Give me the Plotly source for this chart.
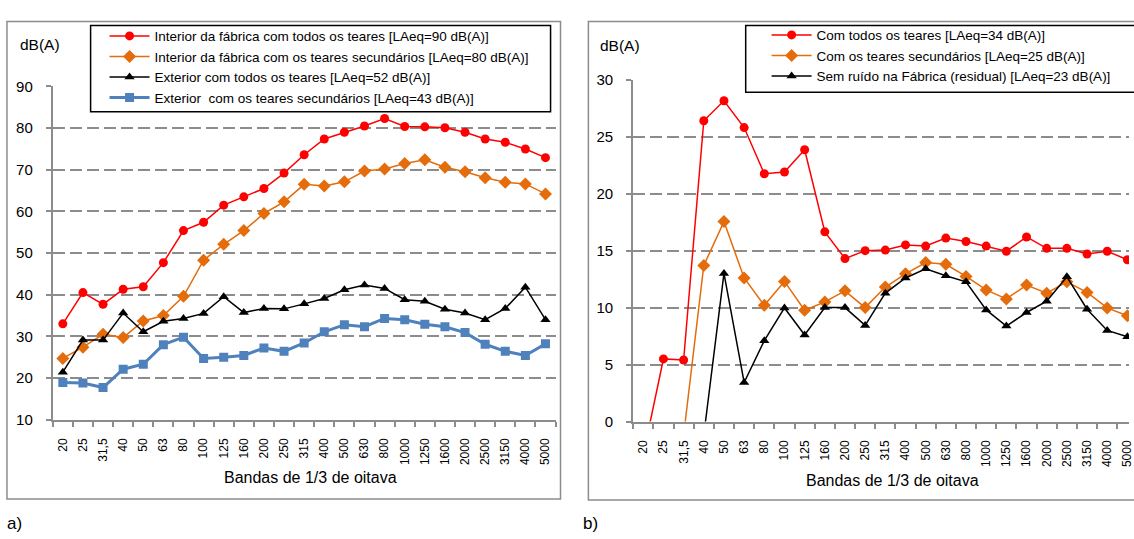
import plotly.graph_objects as go

W, H = 1134, 539

bands = ["20", "25", "31,5", "40", "50", "63", "80", "100", "125", "160", "200", "250", "315",
         "400", "500", "630", "800", "1000", "1250", "1600", "2000", "2500", "3150", "4000", "5000"]

# (a) interior / exterior
int_todos = [33.0, 40.5, 37.7, 41.3, 41.9, 47.7, 55.4, 57.4, 61.5, 63.5, 65.5, 69.2, 73.6,
             77.4, 79.0, 80.5, 82.3, 80.4, 80.3, 80.1, 79.0, 77.4, 76.6, 75.0, 72.9]
int_sec = [24.7, 27.4, 30.5, 29.7, 33.7, 35.0, 39.6, 48.3, 52.1, 55.4, 59.5, 62.3, 66.5,
           66.1, 67.1, 69.7, 70.2, 71.5, 72.4, 70.6, 69.5, 68.1, 67.0, 66.6, 64.2]
ext_todos = [21.4, 29.1, 29.1, 35.6, 31.1, 33.6, 34.3, 35.5, 39.5, 35.7, 36.7, 36.6, 37.8,
             39.1, 41.2, 42.3, 41.5, 38.8, 38.4, 36.5, 35.6, 34.0, 36.7, 41.8, 34.0]
ext_sec = [18.9, 18.8, 17.7, 22.1, 23.3, 28.0, 29.8, 24.7, 25.0, 25.4, 27.2, 26.4, 28.4,
           31.1, 32.8, 32.3, 34.3, 34.0, 32.9, 32.3, 30.9, 28.1, 26.4, 25.4, 28.2]

# (b) LAeq contribution
b_todos = [-2.9, 5.5, 5.4, 26.4, 28.15, 25.8, 21.75, 21.9, 23.85, 16.65, 14.3, 15.0, 15.05,
           15.5, 15.4, 16.1, 15.8, 15.4, 14.95, 16.2, 15.2, 15.2, 14.7, 14.95, 14.2]
b_sec = [None, None, -1.2, 13.7, 17.55, 12.6, 10.2, 12.3, 9.77, 10.5, 11.47, 10.0, 11.8,
         12.97, 13.96, 13.8, 12.74, 11.55, 10.76, 11.98, 11.27, 12.26, 11.33, 9.97, 9.29]
b_resid = [None, None, None, -1.2, 13.0, 3.43, 7.1, 9.97, 7.6, 10.0, 10.0, 8.44, 11.27,
           12.6, 13.4, 12.8, 12.26, 9.8, 8.38, 9.57, 10.56, 12.7, 9.86, 8.0, 7.45]

names_a = ["Interior da fábrica com todos os teares [LAeq=90 dB(A)]",
           "Interior da fábrica com os teares secundários [LAeq=80 dB(A)]",
           "Exterior com todos os teares [LAeq=52 dB(A)]",
           "Exterior  com os teares secundários [LAeq=43 dB(A)]"]
names_b = ["Com todos os teares [LAeq=34 dB(A)]",
           "Com os teares secundários [LAeq=25 dB(A)]",
           "Sem ruído na Fábrica (residual) [LAeq=23 dB(A)]"]

RED, ORANGE, BLACK, BLUE = "#FF0000", "#E46C0A", "#000000", "#4F81BD"
GRID = "#8C8C8C"
FONT = "Liberation Sans, Arial, sans-serif"


def px(x):
    return x / W


def py(y):
    return 1 - y / H


fig = go.Figure()

styles_a = [
    (int_todos, RED, "circle", 9, 1.5),
    (int_sec, ORANGE, "diamond", 10, 1.5),
    (ext_todos, BLACK, "triangle-up", 9, 1.5),
    (ext_sec, BLUE, "square", 9, 3),
]
for i, (vals, col, sym, ms, lw) in enumerate(styles_a):
    fig.add_trace(go.Scatter(
        x=bands, y=vals, name=names_a[i], mode="lines+markers",
        line=dict(color=col, width=lw), marker=dict(symbol=sym, size=ms, color=col),
        xaxis="x", yaxis="y", legend="legend", legendgroup=f"a{i}"))

styles_b = [
    (b_todos, RED, "circle", 9, 1.5),
    (b_sec, ORANGE, "diamond", 10, 1.5),
    (b_resid, BLACK, "triangle-up", 9, 1.5),
]
for i, (vals, col, sym, ms, lw) in enumerate(styles_b):
    fig.add_trace(go.Scatter(
        x=bands, y=vals, name=names_b[i], mode="lines+markers",
        line=dict(color=col, width=lw), marker=dict(symbol=sym, size=ms, color=col),
        xaxis="x2", yaxis="y2", legend="legend2", legendgroup=f"b{i}", connectgaps=False))

xcommon = dict(type="category", categoryorder="array", categoryarray=bands,
               tickangle=-90, tickson="boundaries", ticks="outside", ticklen=5,
               tickcolor=GRID, tickwidth=1.5, showline=True, linecolor=GRID, linewidth=2,
               showgrid=False, zeroline=False, tickfont=dict(family=FONT, size=12, color="#000"),
               ticklabelstandoff=12, fixedrange=True)
ycommon = dict(ticks="outside", ticklen=5, tickcolor=GRID, tickwidth=1.5,
               showline=True, linecolor=GRID, linewidth=2, showgrid=True,
               gridcolor=GRID, gridwidth=1.5, griddash="12px,5px", zeroline=False,
               tickfont=dict(family=FONT, size=15, color="#000"), ticklabelstandoff=10,
               fixedrange=True)

fig.update_layout(
    width=W, height=H, margin=dict(l=0, r=0, t=0, b=0),
    paper_bgcolor="white", plot_bgcolor="white",
    font=dict(family=FONT, color="#000"),
    xaxis=dict(domain=[px(53), px(558)], anchor="y", range=[-0.5, 24.5], **xcommon),
    yaxis=dict(domain=[py(424), py(80)], anchor="x", range=[10, 90], dtick=10, **ycommon),
    xaxis2=dict(domain=[px(636), 1.0], anchor="y2", range=[-0.5, 24.08], **xcommon),
    yaxis2=dict(domain=[py(426), py(73)], anchor="x2", range=[0, 30], dtick=5, **ycommon),
    legend=dict(x=px(105), y=py(12), xanchor="left", yanchor="top", bgcolor="rgba(0,0,0,0)",
                borderwidth=0, font=dict(family=FONT, size=13.5, color="#000"),
                itemwidth=40, tracegroupgap=7, traceorder="normal"),
    legend2=dict(x=px(770), y=py(11), xanchor="left", yanchor="top", bgcolor="rgba(0,0,0,0)",
                 borderwidth=0, font=dict(family=FONT, size=13.5, color="#000"),
                 itemwidth=40, tracegroupgap=9, traceorder="normal"),
    showlegend=True,
)

shapes = [
    # outer chart frames
    dict(type="rect", xref="paper", yref="paper", x0=px(7), x1=px(563), y0=py(506), y1=py(13),
         line=dict(color=GRID, width=1.5), fillcolor="rgba(0,0,0,0)", layer="below"),
    dict(type="rect", xref="paper", yref="paper", x0=px(591), x1=px(1145), y0=py(507), y1=py(13),
         line=dict(color=GRID, width=1.5), fillcolor="rgba(0,0,0,0)", layer="below"),
    # legend boxes
    dict(type="rect", xref="paper", yref="paper", x0=px(91), x1=px(553), y0=py(106), y1=py(17),
         line=dict(color="#000", width=1.5), fillcolor="white", layer="above"),
    dict(type="rect", xref="paper", yref="paper", x0=px(749), x1=px(1145), y0=py(86), y1=py(17),
         line=dict(color="#000", width=1.5), fillcolor="white", layer="above"),
]
fig.update_layout(shapes=shapes)

ann = [
    dict(text="dB(A)", x=px(18), y=py(37), xanchor="left", yanchor="middle", size=15.5),
    dict(text="dB(A)", x=px(601), y=py(38), xanchor="left", yanchor="middle", size=15.5),
    dict(text="Bandas de 1/3 de oitava", x=px(312), y=py(484), xanchor="center", yanchor="middle", size=16),
    dict(text="Bandas de 1/3 de oitava", x=px(896), y=py(487), xanchor="center", yanchor="middle", size=16),
    dict(text="a)", x=px(5), y=py(531), xanchor="left", yanchor="middle", size=17),
    dict(text="b)", x=px(584), y=py(531), xanchor="left", yanchor="middle", size=17),
]
fig.update_layout(annotations=[
    dict(text=a["text"], x=a["x"], y=a["y"], xref="paper", yref="paper", showarrow=False,
         xanchor=a["xanchor"], yanchor=a["yanchor"], font=dict(family=FONT, size=a["size"], color="#000"))
    for a in ann])

fig.write_html("out.html", config={"displayModeBar": False})
